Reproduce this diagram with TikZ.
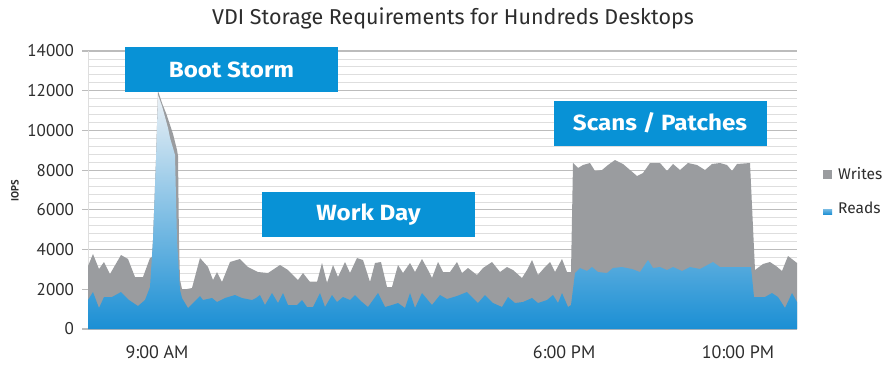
\documentclass[tikz,border=0pt]{standalone}
\usepackage{fontspec}
\setmainfont{PT Sans}
\newfontfamily\widesans{Fira Sans}
\newcommand\tagtext[1]{\scalebox{1.1}[1]{#1}}
\definecolor{hpblue}{RGB}{8,146,214}
\definecolor{readblue}{RGB}{27,143,212}
\definecolor{readtop}{RGB}{238,242,246}
\definecolor{writegray}{RGB}{154,156,159}
\definecolor{gridminor}{RGB}{222,222,222}
\definecolor{gridmajor}{RGB}{188,188,188}
\definecolor{labelgray}{RGB}{45,45,45}
\tikzset{
  tagbox/.style={fill=hpblue, text=white, font=\widesans\bfseries\fontsize{22}{24}\selectfont,
    minimum width=213, minimum height=45, inner sep=0},
  ticklab/.style={anchor=east, text=labelgray, font=\fontsize{17}{20}\selectfont, inner sep=0},
  timelab/.style={text=labelgray, font=\fontsize{18}{21}\selectfont, inner sep=0},
  legtext/.style={anchor=west, text=labelgray, font=\widesans\fontsize{15.5}{17}\selectfont, inner sep=0},
  minorgrid/.style={draw=gridminor, line width=0.8},
  majorgrid/.style={draw=gridmajor, line width=1.1},
}
\begin{document}
\begin{tikzpicture}[x=1pt,y=-1pt]
\useasboundingbox (0,0) rectangle (886,365);
\fill[white] (0,0) rectangle (886,365);

% horizontal grid: minor every 400 IOPS, major every 2000
\foreach \k in {0,...,35}{
  \pgfmathtruncatemacro\ismajor{mod(\k,5)==0 ? 1 : 0}
  \ifnum\ismajor=1
    \draw[majorgrid] (82,{329-\k*7.943}) -- (797,{329-\k*7.943});
  \else
    \draw[minorgrid] (88,{329-\k*7.943}) -- (797,{329-\k*7.943});
  \fi
}
\draw[gridminor, line width=0.8] (88,51) -- (88,329);

% total IOPS (writes on top of reads)
\fill[writegray] (88,329) -- plot coordinates {
 (88,266) (93,254) (99,269) (104,262) (110,274) (121,255) (128,259) (135,277)
 (143,277) (150,258) (152,257) (153,240) (156,160) (158,91) (162,103) (166,113)
 (170,125) (173,134) (175,142) (177,150) (178,156) (179,240) (180,280) (182,289)
 (187,289) (192,288) (200,258) (208,267) (213,280) (217,272) (222,282) (230,262)
 (240,259) (248,267) (258,272) (268,273) (280,265) (288,270) (298,280) (303,273)
 (310,282) (317,282) (322,263) (327,283) (333,265) (338,277) (345,262) (350,273)
 (357,258) (363,260) (370,282) (375,263) (381,262) (387,287) (392,287) (398,265)
 (403,273) (410,263) (415,272) (422,259) (428,270) (432,278) (438,262) (443,272)
 (450,272) (457,262) (462,273) (468,268) (477,275) (483,268) (492,262) (500,272)
 (507,267) (513,270) (522,278) (527,270) (532,260) (538,275) (545,267) (550,262)
 (555,272) (562,259) (567,272) (571,272) (573,163) (578,168) (583,165) (590,163)
 (595,171) (602,170) (608,165) (615,160) (623,164) (630,170) (637,176) (643,173)
 (650,163) (660,163) (667,171) (673,164) (680,170) (688,163) (697,165) (705,170)
 (712,164) (720,163) (727,165) (732,171) (737,164) (750,163) (755,270) (763,264)
 (770,262) (776,266) (782,271) (788,256) (797,263)
} -- (797,329) -- cycle;

% reads, shaded from pale at the top to blue at the base
\begin{scope}
\clip (88,329) -- plot coordinates {
 (88,300) (93,292) (99,308) (104,297) (112,297) (121,292) (129,300) (138,306)
 (145,300) (150,287) (153,240) (156,160) (158,95) (162,106) (165,117) (168,128)
 (170,138) (173,148) (175,155) (177,240) (180,290) (182,298) (188,308) (200,296)
 (203,300) (212,298) (217,302) (225,298) (235,295) (242,298) (252,300) (256,298)
 (260,295) (265,305) (272,293) (278,303) (283,293) (288,305) (297,305) (302,300)
 (307,307) (313,307) (320,293) (325,307) (332,295) (337,302) (343,297) (350,300)
 (355,295) (362,302) (368,307) (378,293) (385,307) (392,305) (398,303) (405,308)
 (410,293) (415,308) (422,293) (432,305) (440,295) (447,299) (457,296) (467,292)
 (478,303) (485,295) (493,303) (502,307) (508,297) (515,303) (523,302) (532,298)
 (538,303) (547,300) (553,295) (558,303) (562,293) (568,307) (571,305) (575,273)
 (580,268) (587,271) (592,267) (598,272) (607,273) (613,268) (622,267) (632,269)
 (640,272) (648,260) (653,268) (660,267) (667,270) (673,267) (682,271) (690,267)
 (700,269) (713,262) (720,267) (728,267) (740,267) (751,267) (754,297) (765,297)
 (772,293) (778,297) (785,308) (792,293) (797,302)
} -- (797,329) -- cycle;
\shade[top color=readtop, bottom color=readblue] (88,92) rectangle (797,329);
\end{scope}

% title and axis labels
\node[text=labelgray, font=\widesans\fontsize{21.5}{24}\selectfont, inner sep=0] (title) at (453,18)
  {VDI Storage Requirements for Hundreds Desktops};
\node[rotate=90, text=labelgray, font=\bfseries\fontsize{10.5}{12}\selectfont, inner sep=0] (iops) at (15,191) {IOPS};
\foreach \v/\n in {0/ta,2000/tb,4000/tc,6000/td,8000/te,10000/tf,12000/tg,14000/th}{
  \node[ticklab] (\n) at (74,{329-\v/2000*39.714}) {\v};
}
\node[timelab] (t9am) at (157,352) {9:00 AM};
\node[timelab] (t6pm) at (564,352) {6:00 PM};
\node[timelab] (t10pm) at (738,352) {10:00 PM};

% phase tags
\node[tagbox] (boot) at (231.5,69.5) {\tagtext{Boot Storm}};
\node[tagbox] (work) at (368.5,214.5) {\tagtext{Work Day}};
\node[tagbox] (scan) at (660,123) {\tagtext{Scans / Patches}};

% legend
\node[fill=writegray, minimum width=9, minimum height=9, inner sep=0] (kwrites) at (827.5,174) {};
\node[legtext] (lwrites) at (838,174) {Writes};
\node[top color=readtop!40!readblue, bottom color=readblue, minimum width=9, minimum height=5, inner sep=0] (kreads) at (827.5,212) {};
\node[legtext] (lreads) at (838,208) {Reads};
\end{tikzpicture}
\end{document}
